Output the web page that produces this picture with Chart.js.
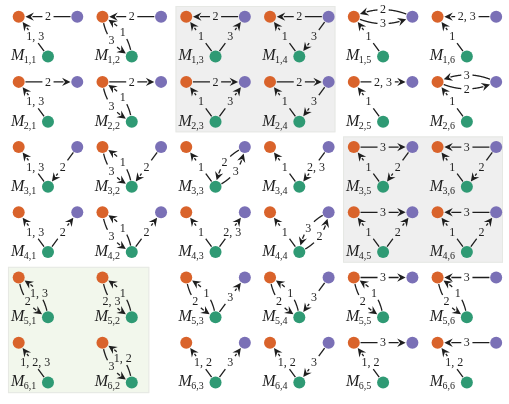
<!DOCTYPE html>
<html>
<head>
<meta charset="utf-8">
<script src="https://cdn.jsdelivr.net/npm/chart.js@4.4.1/dist/chart.umd.min.js"></script>
<style>
  html, body { margin: 0; padding: 0; background: #fff; }
  #wrap { width: 509px; height: 404px; }
</style>
</head>
<body>
<div id="wrap"><canvas id="motifs"></canvas></div>
<script>
// Motif rows M_{i,1..6}. Nodes: O (orange), P (purple), G (green).
// "PO:2" = edge P -> O at time 2.
const M1 = ["PO:2 GO:1,3", "PO:2 GO:1 OG:3", "PO:2 GO:1 GP:3", "PO:2 GO:1 PG:3", "PO:2 OP:3 GO:1", "PO:2,3 GO:1"];
const M2 = ["OP:2 GO:1,3", "OP:2 GO:1 OG:3", "OP:2 GO:1 GP:3", "OP:2 GO:1 PG:3", "OP:2,3 GO:1", "PO:3 OP:2 GO:1"];
const M3 = ["GO:1,3 PG:2", "GO:1 OG:3 PG:2", "GO:1 PG:2 GP:3", "GO:1 PG:2,3", "OP:3 GO:1 PG:2", "PO:3 GO:1 PG:2"];
const M4 = ["GO:1,3 GP:2", "GO:1 OG:3 GP:2", "GO:1 GP:2,3", "GO:1 PG:3 GP:2", "OP:3 GO:1 GP:2", "PO:3 GO:1 GP:2"];
const M5 = ["GO:1,3 OG:2", "GO:1 OG:2,3", "GO:1 OG:2 GP:3", "GO:1 OG:2 PG:3", "OP:3 GO:1 OG:2", "PO:3 GO:1 OG:2"];
const M6 = ["GO:1,2,3", "GO:1,2 OG:3", "GO:1,2 GP:3", "GO:1,2 PG:3", "OP:3 GO:1,2", "PO:3 GO:1,2"];
const MOTIF_ROWS = [M1, M2, M3, M4, M5, M6];

// shaded groups of motifs (row range, column range)
const GROUP_ROWS = [[0, 1], [2, 3], [4, 5]];
const GROUP_COLS = [[2, 3], [4, 5], [0, 1]];
const GROUP_FILLS = ["#efefef", "#efefef", "#f2f7ec"];

const NODE_COLORS = { O: "#d9632b", P: "#7a70b6", G: "#2f9a74" };
const INK = "#1e1e1e";

// ─── layout helpers (data units = pixels) ─────────────────
const colX = c => 13 + 85.8 * c;
const rowY = r => 11 + 67.2 * r;
function nodePos(r, c, n) {
  if (n === "O") return { x: colX(c), y: rowY(r) };
  if (n === "P") return { x: colX(c) + 60, y: rowY(r) };
  return { x: colX(c) + 30, y: rowY(r) + 41 };
}
function parseMotif(s) {
  return s.split(" ").map(tok => {
    const [pair, lab] = tok.split(":");
    return { from: pair[0], to: pair[1], label: lab.split(",").join(", ") };
  });
}

function pointsFor(name) {
  const out = [];
  MOTIF_ROWS.forEach((row, r) => row.forEach((m, c) => {
    if (name === "P" && !m.includes("P")) return;
    out.push(nodePos(r, c, name));
  }));
  return out;
}

// ─── drawing ──────────────────────────────────────────────
const R = 6;

function drawArrowHead(ctx, tip, dx, dy) {
  const L = 8.5, W = 4.2;
  const nx = -dy, ny = dx;
  ctx.beginPath();
  ctx.moveTo(tip.x, tip.y);
  ctx.lineTo(tip.x - L * dx + W * nx, tip.y - L * dy + W * ny);
  ctx.lineTo(tip.x - 0.65 * L * dx, tip.y - 0.65 * L * dy);
  ctx.lineTo(tip.x - L * dx - W * nx, tip.y - L * dy - W * ny);
  ctx.closePath();
  ctx.fill();
}

function drawEdge(ctx, a, b, bend, label) {
  const dx = b.x - a.x, dy = b.y - a.y, len = Math.hypot(dx, dy);
  const nx = -dy / len, ny = dx / len;
  const cx = (a.x + b.x) / 2 + nx * bend, cy = (a.y + b.y) / 2 + ny * bend;
  const N = 200, pts = [];
  for (let i = 0; i <= N; i++) {
    const t = i / N, u = 1 - t;
    pts.push({ x: u * u * a.x + 2 * u * t * cx + t * t * b.x, y: u * u * a.y + 2 * u * t * cy + t * t * b.y });
  }
  const lab = { x: 0.25 * a.x + 0.5 * cx + 0.25 * b.x, y: 0.25 * a.y + 0.5 * cy + 0.25 * b.y };
  if (label.length > 1 && Math.abs(dy) > 5 && bend === 0) lab.x += 2;
  ctx.font = "12px 'Liberation Serif', serif";
  const w = ctx.measureText(label).width, h = 8;

  // arrow tip: first point reaching target boundary
  let tipIdx = N;
  for (let i = 0; i <= N; i++) {
    if (Math.hypot(pts[i].x - b.x, pts[i].y - b.y) <= R + 0.8) { tipIdx = i; break; }
  }
  const tip = pts[tipIdx];
  let bi = tipIdx;
  while (bi > 0 && Math.hypot(pts[bi].x - tip.x, pts[bi].y - tip.y) < 7) bi--;
  const adx = tip.x - pts[bi].x, ady = tip.y - pts[bi].y, al = Math.hypot(adx, ady) || 1;

  ctx.strokeStyle = INK;
  ctx.fillStyle = INK;
  ctx.lineWidth = 1.3;
  ctx.beginPath();
  let pen = false;
  for (let i = 0; i <= bi; i++) {
    const p = pts[i];
    const off = Math.hypot(p.x - a.x, p.y - a.y) < R + 0.5 ||
      (Math.abs(p.x - lab.x) < w / 2 + 2.5 && Math.abs(p.y - lab.y) < h / 2 + 2.5);
    if (off) { pen = false; continue; }
    if (!pen) { ctx.moveTo(p.x, p.y); pen = true; } else ctx.lineTo(p.x, p.y);
  }
  ctx.stroke();
  drawArrowHead(ctx, tip, adx / al, ady / al);

  ctx.textAlign = "center";
  ctx.textBaseline = "middle";
  ctx.fillText(label, lab.x, lab.y + 0.5);
}

const motifPlugin = {
  id: "motifs",
  beforeDatasetsDraw(chart) {
    const { ctx, scales: { x, y } } = chart;
    ctx.save();
    GROUP_ROWS.forEach((rows, g) => {
      const cols = GROUP_COLS[g];
      const hasP = MOTIF_ROWS[rows[0]][cols[1]].includes("P");
      const x0 = x.getPixelForValue(colX(cols[0]) - 11);
      const x1 = x.getPixelForValue(colX(cols[1]) + (hasP ? 67 : 48));
      const y0 = y.getPixelForValue(rowY(rows[0]) - 11);
      const y1 = y.getPixelForValue(rowY(rows[1]) + 52);
      ctx.fillStyle = GROUP_FILLS[g];
      ctx.fillRect(x0, y0, x1 - x0, y1 - y0);
      ctx.strokeStyle = "#e6e8e4";
      ctx.lineWidth = 1;
      ctx.strokeRect(x0 + 0.5, y0 + 0.5, x1 - x0 - 1, y1 - y0 - 1);
    });
    ctx.restore();
  },
  afterDatasetsDraw(chart) {
    const { ctx, scales: { x, y } } = chart;
    const px = p => ({ x: x.getPixelForValue(p.x), y: y.getPixelForValue(p.y) });
    ctx.save();
    MOTIF_ROWS.forEach((row, r) => row.forEach((m, c) => {
      const edges = parseMotif(m);
      edges.forEach(e => {
        const twin = edges.some(o => o.from === e.to && o.to === e.from);
        drawEdge(ctx, px(nodePos(r, c, e.from)), px(nodePos(r, c, e.to)), twin ? 14 : 0, e.label);
      });
      // title M_{r,c}
      const t = px({ x: colX(c) - 8, y: rowY(r) + 45 });
      ctx.fillStyle = INK;
      ctx.textAlign = "left";
      ctx.textBaseline = "alphabetic";
      ctx.font = "italic 16px 'Liberation Serif', serif";
      ctx.fillText("M", t.x, t.y);
      const mw = ctx.measureText("M").width;
      ctx.font = "10px 'Liberation Serif', serif";
      ctx.fillText((r + 1) + "," + (c + 1), t.x + mw - 0.5, t.y + 3);
    }));
    ctx.restore();
  }
};

const nodeDataset = name => ({
  data: pointsFor(name),
  backgroundColor: NODE_COLORS[name],
  borderWidth: 0,
  pointRadius: R,
  pointHoverRadius: R,
  clip: false,
});

new Chart(document.getElementById("motifs"), {
  type: "scatter",
  data: { datasets: [nodeDataset("O"), nodeDataset("P"), nodeDataset("G")] },
  options: {
    responsive: true,
    maintainAspectRatio: false,
    animation: false,
    events: [],
    layout: { padding: 0 },
    plugins: { legend: { display: false }, tooltip: { enabled: false } },
    scales: {
      x: { type: "linear", min: 0, max: 509, display: false },
      y: { type: "linear", min: 0, max: 404, reverse: true, display: false },
    },
  },
  plugins: [motifPlugin],
});
</script>
</body>
</html>
